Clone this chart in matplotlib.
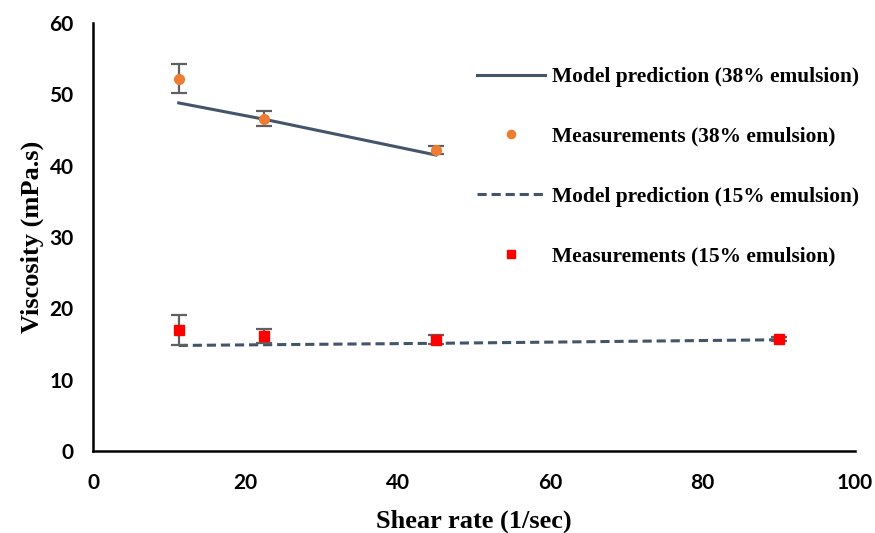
import matplotlib.pyplot as plt

# shear rates (1/sec)
shear = [11.25, 22.5, 45, 90]

# 38% emulsion
model_38 = [48.8, 46.5, 41.5]
meas_38 = [52.2, 46.6, 42.2]
err_38 = [2.0, 1.0, 0.5]

# 15% emulsion
model_15 = [14.8, 14.9, 15.1, 15.6]
meas_15 = [16.9, 16.1, 15.6, 15.7]
err_15 = [2.1, 1.0, 0.6, 0.3]

LINE_COLOR = '#44546A'
ERR_COLOR = '#606060'

fig = plt.figure(figsize=(8.75, 5.33), dpi=100)
ax = fig.add_axes([0.1063, 0.1538, 0.8709, 0.803])

ax.plot(shear[:3], model_38, color=LINE_COLOR, lw=2.2, label='Model prediction (38% emulsion)', zorder=2)
ax.errorbar(shear[:3], meas_38, yerr=err_38, fmt='none', ecolor=ERR_COLOR, elinewidth=1.6, capsize=6, capthick=1.6, zorder=3)
ax.plot(shear[:3], meas_38, 'o', color='#ED7D31', ms=7, ls='none', label='Measurements (38% emulsion)', zorder=4)

ax.plot(shear, model_15, color=LINE_COLOR, lw=2.2, ls=(0, (3, 1.6)), label='Model prediction (15% emulsion)', zorder=2)
ax.errorbar(shear, meas_15, yerr=err_15, fmt='none', ecolor=ERR_COLOR, elinewidth=1.6, capsize=6, capthick=1.6, zorder=3)
ax.plot(shear, meas_15, 's', color='#FF0000', ms=7, ls='none', label='Measurements (15% emulsion)', zorder=4)

ax.set_xlim(0, 100)
ax.set_ylim(0, 60)
ax.set_xticks(range(0, 101, 20))
ax.set_yticks(range(0, 61, 10))
ax.tick_params(length=0, pad=14, labelsize=15)
for lab in ax.get_xticklabels() + ax.get_yticklabels():
    lab.set_fontfamily('Lato')
    lab.set_fontweight('bold')
ax.tick_params(axis='x', pad=16)

for side in ['top', 'right']:
    ax.spines[side].set_visible(False)
for side in ['left', 'bottom']:
    ax.spines[side].set_linewidth(1.8)
    ax.spines[side].set_color('black')

serif = {'family': 'Liberation Serif', 'weight': 'bold', 'size': 19}
ax.set_xlabel('Shear rate (1/sec)', fontdict=serif, labelpad=12)
ax.set_ylabel('Viscosity (mPa.s)', fontdict=serif, labelpad=4)

leg = ax.legend(loc='upper left', bbox_to_anchor=(0.478, 0.942), frameon=False,
                prop={'family': 'Liberation Serif', 'weight': 'bold', 'size': 15.4},
                handlelength=3.2, handletextpad=0.33, labelspacing=1.86, markerscale=0.85)

fig.savefig('out.png', dpi=100)
